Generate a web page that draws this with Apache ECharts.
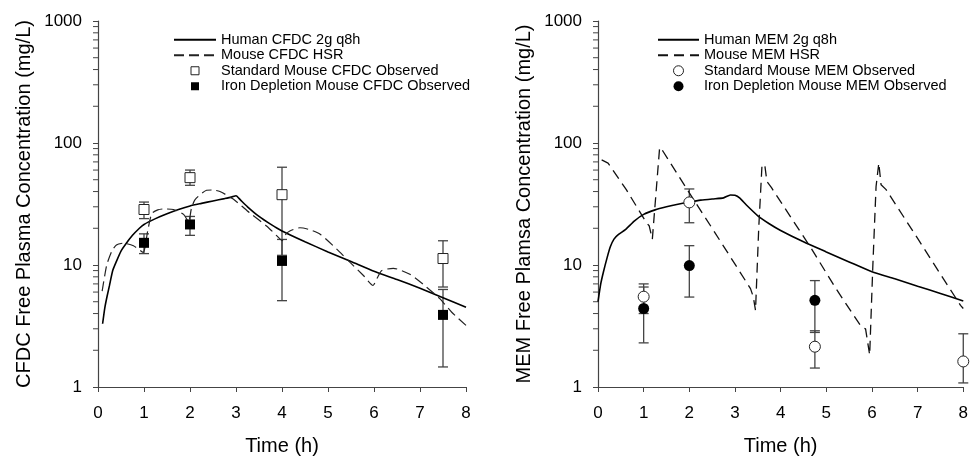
<!DOCTYPE html>
<html>
<head>
<meta charset="utf-8">
<script src="https://cdn.jsdelivr.net/npm/echarts@6/dist/echarts.min.js"></script>
<style>
html,body{margin:0;padding:0;background:#fff;}
#chart{width:971px;height:461px;}
</style>
</head>
<body>
<div id="chart"></div>
<script>
// ---------- Data ----------
// Left panel: CFDC
const cfdcHumanT = [0.1,0.15,0.2,0.25,0.32,0.4,0.5,0.6,0.75,0.9,1,1.25,1.5,1.75,2,2.25,2.5,2.75,2.9,3.0,3.1,3.25,3.5,3.75,4,4.5,5,5.5,6,6.5,7,7.5,8];
const cfdcHumanC = [3.3,4.5,5.6,6.8,9.0,10.7,13.0,14.8,17.5,20,21.5,24,26.3,28.5,30.5,32,33.5,35,36,37,34,30,25,21.6,19,15.5,12.8,10.7,8.9,7.6,6.45,5.4,4.5];
const cfdcMouseT = [0.09,0.19,0.3,0.4,0.55,0.77,0.98,1.08,1.17,1.3,1.42,1.64,1.86,1.97,2.03,2.11,2.36,2.5,2.65,2.94,3.3,3.67,3.96,4.0,4.08,4.17,4.39,4.6,4.83,5.19,5.48,5.77,5.98,6.06,6.17,6.42,6.78,7.14,7.43,7.69,8.0];
const cfdcMouseC = [6.1,10,13,14.6,15.1,14.4,12.7,19,26.5,28.3,28.8,28.5,26,22.5,29,34.4,41,41.2,40,34.7,26.7,20.8,16.3,15.8,17.8,19,20.2,19.5,17.9,13.5,10.5,8.2,6.8,7.7,9.0,9.4,8.4,6.6,5.3,4.1,3.2];
const cfdcObsT = [1, 2, 4, 7.5];
const cfdcStd = [28.5, 52, 37.7, 11.3];
const cfdcStdLo = [24, 45, 12, 6.6];
const cfdcStdHi = [32.8, 60, 63.3, 15.8];
const cfdcIron = [15.2, 21.5, 10.8, 3.9];
const cfdcIronLo = [12.4, 17.5, 5.1, 1.46];
const cfdcIronHi = [18, 25, 16.2, 6.3];

// Right panel: MEM
const memHumanT = [0,0.06,0.12,0.2,0.27,0.35,0.45,0.6,0.8,1,1.25,1.5,1.75,2,2.25,2.5,2.75,2.9,3.0,3.1,3.25,3.5,3.75,4,4.5,5,5.5,6,6.5,7,7.5,8];
const memHumanC = [5.0,7,8.8,11.5,14.1,16.3,17.8,19.5,23,26,28.3,30,31.5,32.8,34,34.8,35.5,37.5,37.3,35.5,31,25.3,21.8,19.2,15.5,12.8,10.6,8.8,7.7,6.7,5.85,5.07];
const memMouseT = [0.08,0.22,0.62,1.06,1.12,1.19,1.35,1.42,2.0,2.5,3.09,3.34,3.4,3.45,3.52,3.59,3.65,3.7,3.8,4.68,5.2,5.77,5.86,5.95,6.02,6.09,6.15,6.2,6.31,7.0,7.5,7.94,8.0];
const memMouseC = [72.8,68.5,41.5,22.2,21,16.3,92,86,39,20,9.0,6.4,5.5,4.25,20,64,67,48.3,43,13.5,6.5,3.1,3.0,1.83,10,44,68.5,45.4,41.5,16.5,8.4,4.67,4.4];
const memStdT = [1, 2, 4.75, 8];
const memStd = [5.5, 32.6, 2.14, 1.62];
const memStdLo = [4.0, 22.2, 1.43, 1.08];
const memStdHi = [7.0, 42, 2.89, 2.73];
const memIronT = [1, 2, 4.75];
const memIron = [4.4, 9.9, 5.13];
const memIronLo = [2.3, 5.46, 2.8];
const memIronHi = [6.6, 14.4, 7.45];

// Axis ticks
const xTicks = [0,1,2,3,4,5,6,7,8];
const yMajor = [1, 10, 100, 1000];
const yMinor = [2,3,4,5,6,7,8,9,20,30,40,50,60,70,80,90,200,300,400,500,600,700,800,900];

// ---------- Helpers ----------
const zip = (a, b) => a.map((v, i) => [v, b[i]]);
const zip3 = (a, b, c) => a.map((v, i) => [v, b[i], c[i]]);
const FONT = 'Liberation Sans, Arial, sans-serif';
const AX = '#444';
const SQ = 'path://M0,0L10,0L10,10L0,10Z';

function errRender(params, api) {
  const x = api.value(0);
  const lo = api.coord([x, api.value(1)]);
  const hi = api.coord([x, api.value(2)]);
  const w = 5;
  const st = {stroke: AX, lineWidth: 1.3};
  return {type: 'group', children: [
    {type: 'line', shape: {x1: lo[0], y1: lo[1], x2: hi[0], y2: hi[1]}, style: st},
    {type: 'line', shape: {x1: lo[0]-w, y1: lo[1], x2: lo[0]+w, y2: lo[1]}, style: st},
    {type: 'line', shape: {x1: hi[0]-w, y1: hi[1], x2: hi[0]+w, y2: hi[1]}, style: st}
  ]};
}
function minorRender(params, api) {
  const p = api.coord([0, api.value(0)]);
  return {type: 'line', shape: {x1: p[0]-5, y1: p[1], x2: p[0], y2: p[1]}, style: {stroke: AX, lineWidth: 1}};
}

function xAxisCfg(gi) {
  return {
    gridIndex: gi, type: 'value', min: 0, max: 8, interval: 1,
    name: 'Time (h)', nameLocation: 'middle', nameGap: 49,
    nameTextStyle: {fontSize: 20, color: '#000', fontFamily: FONT},
    axisLine: {lineStyle: {color: AX, width: 1.2}},
    axisTick: {length: 5, lineStyle: {color: AX}},
    axisLabel: {fontSize: 17, color: '#000', fontFamily: FONT, margin: 18,
      formatter: v => xTicks.includes(v) ? String(v) : ''},
    splitLine: {show: false}
  };
}
function yAxisCfg(gi, name) {
  return {
    gridIndex: gi, type: 'log', logBase: 10, min: 1, max: 1000,
    name: name, nameLocation: 'middle', nameGap: 64, nameRotate: 90,
    nameTextStyle: {fontSize: 20, color: '#000', fontFamily: FONT},
    axisLine: {show: true, lineStyle: {color: AX, width: 1.2}},
    axisTick: {show: true, length: 5, lineStyle: {color: AX}},
    axisLabel: {fontSize: 17, color: '#000', fontFamily: FONT, margin: 16,
      formatter: v => yMajor.includes(v) ? String(v) : ''},
    splitLine: {show: false}, minorTick: {show: false}
  };
}
function legendCfg(left, names, lineWidthPx, itemH) {
  return {
    orient: 'vertical', left: left, top: 27, itemWidth: lineWidthPx, itemHeight: itemH, itemGap: 0,
    selectedMode: false,
    textStyle: {fontSize: 14.5, color: '#000', fontFamily: FONT, lineHeight: 15.5},
    data: [
      {name: names[0], itemStyle: {opacity: 0}},
      {name: names[1], itemStyle: {opacity: 0}},
      {name: names[2], icon: names[4], itemStyle: {color: '#fff', borderColor: '#222', borderWidth: 1, opacity: 1}},
      {name: names[3], icon: names[4], itemStyle: {color: '#000', borderColor: '#000', borderWidth: 0, opacity: 1}}
    ]
  };
}

const chart = echarts.init(document.getElementById('chart'), null, {renderer: 'canvas'});
const option = {
  animation: false,
  backgroundColor: '#fff',
  grid: [
    {left: 98, top: 21, width: 368, height: 368},
    {left: 598, top: 21, width: 367, height: 368}
  ],
  xAxis: [xAxisCfg(0), xAxisCfg(1)],
  yAxis: [yAxisCfg(0, 'CFDC Free Plasma Concentration (mg/L)'), yAxisCfg(1, 'MEM Free Plamsa Concentration (mg/L)')],
  legend: [
    legendCfg(168, ['Human CFDC 2g q8h', 'Mouse CFDC HSR', 'Standard Mouse CFDC Observed', 'Iron Depletion Mouse CFDC Observed', SQ], 42, 8),
    legendCfg(652, ['Human MEM 2g q8h', 'Mouse MEM HSR', 'Standard Mouse MEM Observed', 'Iron Depletion Mouse MEM Observed', 'circle'], 41, 10)
  ],
  series: [
    // minor ticks
    {type: 'custom', xAxisIndex: 0, yAxisIndex: 0, data: yMinor.map(v => [v]), encode: {y: 0}, renderItem: minorRender, silent: true, z: 1},
    {type: 'custom', xAxisIndex: 1, yAxisIndex: 1, data: yMinor.map(v => [v]), encode: {y: 0}, renderItem: minorRender, silent: true, z: 1},
    // left panel lines
    {name: 'Human CFDC 2g q8h', type: 'line', xAxisIndex: 0, yAxisIndex: 0, data: zip(cfdcHumanT, cfdcHumanC),
      symbol: 'none', smooth: 0.2, lineStyle: {color: '#000', width: 1.6}, itemStyle: {color: '#000'}, z: 3},
    {name: 'Mouse CFDC HSR', type: 'line', xAxisIndex: 0, yAxisIndex: 0, data: zip(cfdcMouseT, cfdcMouseC),
      symbol: 'none', smooth: 0.2, lineStyle: {color: '#222', width: 1.2, type: [10, 5]}, itemStyle: {color: '#222'}, z: 3},
    // left error bars
    {type: 'custom', xAxisIndex: 0, yAxisIndex: 0, data: zip3(cfdcObsT, cfdcStdLo, cfdcStdHi), encode: {x: 0, y: [1, 2]}, renderItem: errRender, z: 2},
    {type: 'custom', xAxisIndex: 0, yAxisIndex: 0, data: zip3(cfdcObsT, cfdcIronLo, cfdcIronHi), encode: {x: 0, y: [1, 2]}, renderItem: errRender, z: 2},
    // left markers
    {name: 'Standard Mouse CFDC Observed', type: 'scatter', xAxisIndex: 0, yAxisIndex: 0, data: zip(cfdcObsT, cfdcStd),
      symbol: 'rect', symbolSize: 10, itemStyle: {color: '#fff', borderColor: '#222', borderWidth: 1, opacity: 1}, z: 4},
    {name: 'Iron Depletion Mouse CFDC Observed', type: 'scatter', xAxisIndex: 0, yAxisIndex: 0, data: zip(cfdcObsT, cfdcIron),
      symbol: 'rect', symbolSize: 10, itemStyle: {color: '#000', opacity: 1}, z: 4},
    // right panel lines
    {name: 'Human MEM 2g q8h', type: 'line', xAxisIndex: 1, yAxisIndex: 1, data: zip(memHumanT, memHumanC),
      symbol: 'none', smooth: 0.2, lineStyle: {color: '#000', width: 1.6}, itemStyle: {color: '#000'}, z: 3},
    {name: 'Mouse MEM HSR', type: 'line', xAxisIndex: 1, yAxisIndex: 1, data: zip(memMouseT, memMouseC),
      symbol: 'none', lineStyle: {color: '#111', width: 1.3, type: [10, 6]}, itemStyle: {color: '#111'}, z: 3},
    // right error bars
    {type: 'custom', xAxisIndex: 1, yAxisIndex: 1, data: zip3(memStdT, memStdLo, memStdHi), encode: {x: 0, y: [1, 2]}, renderItem: errRender, z: 2},
    {type: 'custom', xAxisIndex: 1, yAxisIndex: 1, data: zip3(memIronT, memIronLo, memIronHi), encode: {x: 0, y: [1, 2]}, renderItem: errRender, z: 2},
    // right markers
    {name: 'Standard Mouse MEM Observed', type: 'scatter', xAxisIndex: 1, yAxisIndex: 1, data: zip(memStdT, memStd),
      symbol: 'circle', symbolSize: 11, clip: false, itemStyle: {color: '#fff', borderColor: '#222', borderWidth: 1, opacity: 1}, z: 4},
    {name: 'Iron Depletion Mouse MEM Observed', type: 'scatter', xAxisIndex: 1, yAxisIndex: 1, data: zip(memIronT, memIron),
      symbol: 'circle', symbolSize: 11, itemStyle: {color: '#000', opacity: 1}, z: 4}
  ]
};
chart.setOption(option);
</script>
</body>
</html>
